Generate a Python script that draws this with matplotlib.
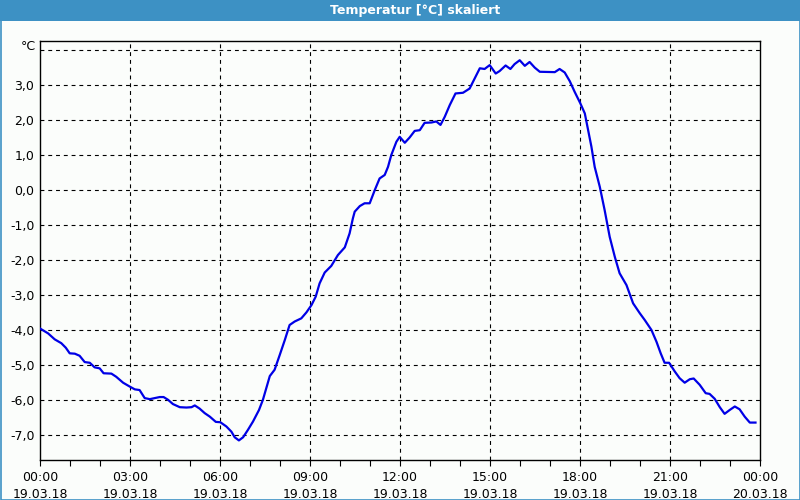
import matplotlib

matplotlib.use("Agg")
import matplotlib.pyplot as plt
from matplotlib.patches import Rectangle
from matplotlib.ticker import MultipleLocator
import matplotlib.transforms as mtransforms

# hours since 19.03.18 00:00
hours = [
    0.0, 0.27, 0.49, 0.71, 0.86, 0.99, 1.16, 1.32, 1.49, 1.66, 1.82, 1.99,
    2.12, 2.38, 2.54, 2.77, 2.99, 3.16, 3.32, 3.49, 3.66, 3.82, 3.99, 4.12,
    4.27, 4.43, 4.66, 4.88, 5.05, 5.16, 5.32, 5.49, 5.66, 5.86, 6.01, 6.21,
    6.38, 6.49, 6.63, 6.77, 6.93, 7.10, 7.30, 7.43, 7.66, 7.82, 7.99, 8.16,
    8.32, 8.49, 8.71, 8.88, 9.05, 9.19, 9.32, 9.49, 9.71, 9.93, 10.16, 10.32,
    10.43, 10.49, 10.66, 10.82, 10.99, 11.16, 11.32, 11.49, 11.60, 11.71, 11.88, 11.99,
    12.16, 12.32, 12.49, 12.66, 12.82, 13.05, 13.21, 13.35, 13.49, 13.66, 13.85, 14.10,
    14.32, 14.49, 14.66, 14.82, 14.99, 15.19, 15.32, 15.52, 15.68, 15.82, 15.99, 16.16,
    16.32, 16.49, 16.66, 17.16, 17.32, 17.49, 17.66, 17.82, 18.01, 18.16, 18.27, 18.38,
    18.49, 18.66, 18.82, 18.99, 19.16, 19.32, 19.55, 19.77, 19.99, 20.16, 20.38, 20.55,
    20.69, 20.82, 20.97, 21.16, 21.32, 21.49, 21.66, 21.79, 21.99, 22.19, 22.32, 22.49,
    22.66, 22.82, 22.99, 23.16, 23.32, 23.49, 23.66, 23.85,
]
temps = [
    -3.95, -4.09, -4.26, -4.37, -4.50, -4.66, -4.67, -4.73, -4.91, -4.93, -5.06, -5.09,
    -5.23, -5.24, -5.33, -5.50, -5.61, -5.69, -5.71, -5.94, -5.97, -5.94, -5.91, -5.91,
    -5.99, -6.11, -6.20, -6.21, -6.20, -6.15, -6.24, -6.37, -6.47, -6.62, -6.63, -6.75,
    -6.90, -7.06, -7.15, -7.06, -6.85, -6.61, -6.28, -5.99, -5.31, -5.13, -4.71, -4.28,
    -3.85, -3.75, -3.66, -3.49, -3.28, -3.04, -2.66, -2.35, -2.16, -1.85, -1.63, -1.23,
    -0.80, -0.61, -0.45, -0.37, -0.37, 0.01, 0.34, 0.44, 0.67, 1.01, 1.39, 1.53,
    1.36, 1.51, 1.70, 1.72, 1.93, 1.94, 1.97, 1.87, 2.10, 2.44, 2.77, 2.79,
    2.91, 3.20, 3.49, 3.47, 3.58, 3.34, 3.41, 3.57, 3.47, 3.61, 3.72, 3.56,
    3.67, 3.51, 3.39, 3.38, 3.47, 3.37, 3.12, 2.82, 2.49, 2.20, 1.72, 1.25,
    0.67, 0.10, -0.56, -1.33, -1.90, -2.37, -2.71, -3.23, -3.51, -3.71, -3.99, -4.33,
    -4.66, -4.93, -4.93, -5.18, -5.37, -5.50, -5.40, -5.38, -5.56, -5.80, -5.82, -5.96,
    -6.20, -6.39, -6.28, -6.18, -6.26, -6.47, -6.64, -6.64,
]

x_ticks = [0, 3, 6, 9, 12, 15, 18, 21, 24]
x_labels = [
    "00:00\n19.03.18", "03:00\n19.03.18", "06:00\n19.03.18", "09:00\n19.03.18",
    "12:00\n19.03.18", "15:00\n19.03.18", "18:00\n19.03.18", "21:00\n19.03.18",
    "00:00\n20.03.18",
]
y_ticks = [3, 2, 1, 0, -1, -2, -3, -4, -5, -6, -7]
y_labels = ["3,0", "2,0", "1,0", "0,0", "-1,0", "-2,0", "-3,0", "-4,0", "-5,0", "-6,0", "-7,0"]

title = "Temperatur [°C] skaliert"
bar_color = "#3d91c4"
bg = "#fbfdfb"

fig = plt.figure(figsize=(8, 5), dpi=100)
fig.patch.set_facecolor(bg)

# title bar and outer frame
fig.patches.append(Rectangle((0, 1 - 21 / 500), 1, 21 / 500, transform=fig.transFigure,
                             facecolor=bar_color, edgecolor="none", zorder=0))
fig.patches.append(Rectangle((0.5 / 800, 0.5 / 500), 1 - 1 / 800, 1 - 1 / 500,
                             transform=fig.transFigure, facecolor="none",
                             edgecolor=bar_color, linewidth=1.2, zorder=1))
fig.text(415 / 800, 1 - 10.5 / 500, title, color="white", fontsize=9,
         fontweight="bold", ha="center", va="center")

ax = fig.add_axes([40 / 800, 40 / 500, 720 / 800, 419 / 500])
ax.set_facecolor(bg)
ax.plot(hours, temps, color="#0000e6", linewidth=1.6, zorder=3)

ax.set_xlim(0, 24)
ax.set_ylim(-7.71, 4.27)

ax.set_xticks(x_ticks)
ax.set_xticklabels(x_labels, fontsize=9, linespacing=1.35)
ax.xaxis.set_minor_locator(MultipleLocator(1))
ax.tick_params(axis="x", which="both", direction="out", length=4, width=0.8,
               pad=4, color="black")
ax.set_yticks(y_ticks)
ax.set_yticklabels(y_labels, fontsize=9)
ax.tick_params(axis="y", length=0, pad=4)

# grid lines: hours 3..21 and every whole degree up to 4
for h in x_ticks[1:-1]:
    ax.axvline(h, color="black", linewidth=0.8, linestyle=(0, (3.5, 3.5)), zorder=1)
for v in y_ticks + [4]:
    ax.axhline(v, color="black", linewidth=0.8, linestyle=(0, (3.5, 3.5)), zorder=1)

trans = mtransforms.blended_transform_factory(ax.transAxes, ax.transData)
ax.text(-0.006, 4.12, "°C", transform=trans, fontsize=9, ha="right", va="center")

for s in ax.spines.values():
    s.set_color("black")
    s.set_linewidth(1.0)

fig.savefig("out.png", dpi=100, facecolor=fig.get_facecolor())
